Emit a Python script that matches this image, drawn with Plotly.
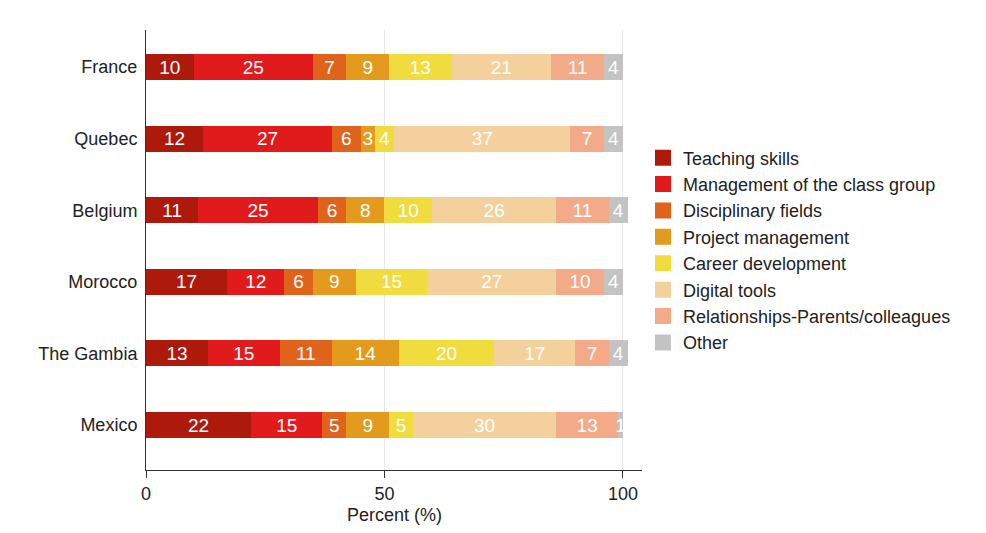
import plotly.graph_objects as go

countries = ["France", "Quebec", "Belgium", "Morocco", "The Gambia", "Mexico"]

categories = ["Teaching skills", "Management of the class group", "Disciplinary fields",
              "Project management", "Career development", "Digital tools",
              "Relationships-Parents/colleagues", "Other"]

teaching = [10, 12, 11, 17, 13, 22]
management = [25, 27, 25, 12, 15, 15]
disciplinary = [7, 6, 6, 6, 11, 5]
project = [9, 3, 8, 9, 14, 9]
career = [13, 4, 10, 15, 20, 5]
digital = [21, 37, 26, 27, 17, 30]
relationships = [11, 7, 11, 10, 7, 13]
other = [4, 4, 4, 4, 4, 1]

series = [teaching, management, disciplinary, project, career, digital, relationships, other]
colors = ["#ad1a0c", "#e11b1b", "#e0631c", "#e49b1d", "#f0dc3e", "#f4d19c", "#f2aa88", "#c3c3c3"]

fig = go.Figure()
for name, vals, col in zip(categories, series, colors):
    fig.add_trace(go.Bar(
        y=countries, x=vals, name=name, orientation="h",
        marker=dict(color=col, line=dict(width=0)),
        text=vals, textposition="inside", insidetextanchor="middle", textangle=0,
        textfont=dict(color="white", size=19, family="Liberation Sans, Arial"),
        width=0.363, showlegend=False,
    ))

# legend entries with big square swatches
for name, col in zip(categories, colors):
    fig.add_trace(go.Scatter(
        x=[None], y=[None], mode="markers", name=name,
        marker=dict(symbol="square", size=18, color=col),
    ))

fig.update_layout(
    barmode="stack",
    width=986, height=533,
    margin=dict(l=146, r=344, t=30, b=63),
    paper_bgcolor="white", plot_bgcolor="white",
    font=dict(family="Liberation Sans, Arial", size=18, color="#222222"),
    uniformtext=dict(minsize=19, mode="show"),
    legend=dict(x=1.002, y=0.499, xanchor="left", yanchor="middle",
                font=dict(size=18), traceorder="normal"),
    xaxis=dict(range=[0, 104], tickvals=[0, 50, 100], showgrid=True,
               gridcolor="#e8e8e8", showline=True, linecolor="#333333",
               ticks="outside", ticklen=7, tickcolor="#333333",
               zeroline=False, automargin=False),
    yaxis=dict(range=[5.628, -0.517], showline=True, linecolor="#333333",
               ticks="", ticklabelstandoff=4, showgrid=False, automargin=False),
    annotations=[dict(text="Percent (%)", x=0.5, y=-0.102, xref="paper", yref="paper",
                      xanchor="center", yanchor="middle", showarrow=False,
                      font=dict(size=18))],
)

fig.write_html("out.html", config={"displayModeBar": False},
               post_script="document.body.style.margin='0';")
